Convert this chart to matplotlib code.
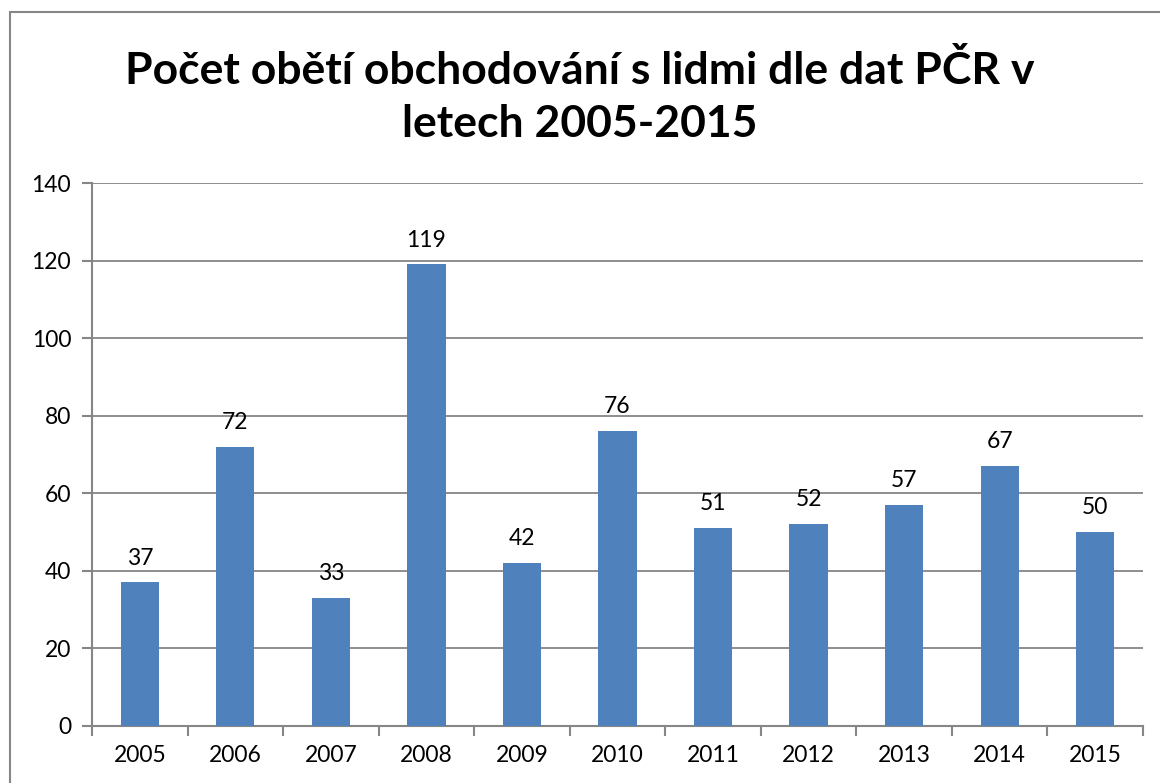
import matplotlib
matplotlib.use("Agg")
import matplotlib.pyplot as plt
from matplotlib.patches import Rectangle

years = ["2005", "2006", "2007", "2008", "2009", "2010", "2011", "2012", "2013", "2014", "2015"]
victims = [37, 72, 33, 119, 42, 76, 51, 52, 57, 67, 50]
title = "Počet obětí obchodování s lidmi dle dat PČR v\nletech 2005-2015"

plt.rcParams['font.family'] = ['Lato', 'DejaVu Sans']

fig = plt.figure(figsize=(11.6, 7.83), dpi=100)
W, H = 1160, 783
ax = fig.add_axes([92 / W, 1 - 726 / H, (1143 - 92) / W, (726 - 183) / H])

grid_c = "#868686"
x = list(range(len(years)))
bars = ax.bar(x, victims, width=0.4, color="#4F81BD", zorder=3)
for xi, v in zip(x, victims):
    ax.annotate(str(v), (xi, v), xytext=(0, 10), textcoords="offset points",
                ha="center", va="bottom", fontsize=16.5, color="#000000")

ax.set_xlim(-0.5, len(years) - 0.5)
ax.set_ylim(0, 140)
ax.set_yticks(range(0, 141, 20))
ax.set_xticks(x)
ax.set_xticklabels(years)
ax.set_xticks([i - 0.5 for i in range(len(years) + 1)], minor=True)
ax.tick_params(axis="x", which="major", length=0, pad=14, labelsize=16.5)
ax.tick_params(axis="x", which="minor", length=7, color=grid_c, width=1.5)
ax.tick_params(axis="y", length=7, color=grid_c, width=1.5, labelsize=16.5, pad=8)
ax.yaxis.grid(True, color=grid_c, linewidth=1.3, zorder=0)
for s in ["top", "right"]:
    ax.spines[s].set_visible(False)
for s in ["left", "bottom"]:
    ax.spines[s].set_color(grid_c)
    ax.spines[s].set_linewidth(1.5)

fig.text(0.5, 1 - 97 / H, title, ha="center", va="center", fontsize=32,
         fontweight="bold", linespacing=1.4)

fig.patches.append(Rectangle((10 / W, -0.05), 1.1, 1 - 12 / H + 0.05,
                             transform=fig.transFigure, fill=False,
                             edgecolor=grid_c, linewidth=1.5))

fig.savefig("out.png", dpi=100)
